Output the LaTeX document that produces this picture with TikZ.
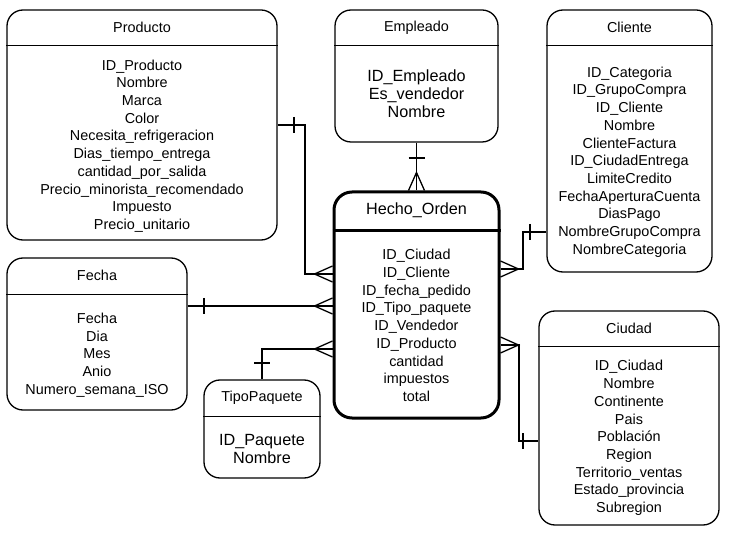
\documentclass[tikz,border=0pt]{standalone}
\usepackage{fontspec}
\setmainfont{Liberation Sans}
\usepackage{tikz}
\tikzset{>=latex}
\tikzset{
    entity/.style={draw, line width=1.3pt, rounded corners=16pt, inner sep=0pt},
    title/.style={font=\fontsize{14.4}{17.7}\selectfont},
    attr/.style={align=center, inner sep=0pt, font=\fontsize{14.4}{17.7}\selectfont},
    bigattr/.style={align=center, inner sep=0pt, font=\fontsize{16.2}{18}\selectfont},
    onebar/.pic={\draw (0,-8) -- (0,8);},
    crowfoot/.pic={\draw (0,-8) -- (-18,0) -- (0,8);}
}

\begin{document}
\begin{tikzpicture}[x=1pt, y=-1pt, line width=1.3pt]
    \useasboundingbox (0,0) rectangle (734,537);
    % tablas
    \node[entity, minimum width=270pt, minimum height=230pt] (producto) at (142,125) {};
    \node[entity, minimum width=163pt, minimum height=132pt] (empleado) at (416.5,76) {};
    \node[entity, minimum width=165pt, minimum height=262pt] (cliente) at (629.5,141) {};
    \node[entity, minimum width=180pt, minimum height=152pt] (fecha) at (97,334) {};
    \node[entity, minimum width=116pt, minimum height=98pt] (tipo) at (262,429) {};
    \node[entity, minimum width=180pt, minimum height=214pt] (ciudad) at (629,418) {};
    \node[entity, line width=3pt, rounded corners=18pt, minimum width=165pt, minimum height=226pt] (hecho) at (416.5,305) {};
    \draw ([yshift=-36pt]producto.north west) -- ([yshift=-36pt]producto.north east);
    \draw ([yshift=-36pt]empleado.north west) -- ([yshift=-36pt]empleado.north east);
    \draw ([yshift=-36pt]cliente.north west) -- ([yshift=-36pt]cliente.north east);
    \draw ([yshift=-37pt]fecha.north west) -- ([yshift=-37pt]fecha.north east);
    \draw ([yshift=-37pt]tipo.north west) -- ([yshift=-37pt]tipo.north east);
    \draw ([yshift=-36pt]ciudad.north west) -- ([yshift=-36pt]ciudad.north east);
    \draw[line width=3pt] ([yshift=-40pt]hecho.north west) -- ([yshift=-40pt]hecho.north east);
    % titulos
    \node[title] (producto-t) at ([yshift=-18pt]producto.north) {Producto};
    \node[title] (empleado-t) at ([yshift=-18pt]empleado.north) {Empleado};
    \node[title] (cliente-t) at ([yshift=-18pt]cliente.north) {Cliente};
    \node[title] (fecha-t) at ([yshift=-18pt]fecha.north) {Fecha};
    \node[title] (tipo-t) at ([yshift=-18pt]tipo.north) {TipoPaquete};
    \node[title] (ciudad-t) at ([yshift=-18pt]ciudad.north) {Ciudad};
    \node[title, font=\fontsize{16.2}{18}\selectfont] (hecho-t) at ([yshift=-20pt]hecho.north) {Hecho\_Orden};
    % atributos
    \node[attr] (producto-a) at (142,146) {ID\_Producto\\Nombre\\Marca\\Color\\Necesita\_refrigeracion\\Dias\_tiempo\_entrega\\cantidad\_por\_salida\\Precio\_minorista\_recomendado\\Impuesto\\Precio\_unitario};
    \node[bigattr] (empleado-a) at (416.5,94) {ID\_Empleado\\Es\_vendedor\\Nombre};
    \node[attr] (cliente-a) at (629.5,162) {ID\_Categoria\\ID\_GrupoCompra\\ID\_Cliente\\Nombre\\ClienteFactura\\ID\_CiudadEntrega\\LimiteCredito\\FechaAperturaCuenta\\DiasPago\\NombreGrupoCompra\\NombreCategoria};
    \node[attr] (fecha-a) at (97,355) {Fecha\\Dia\\Mes\\Anio\\Numero\_semana\_ISO};
    \node[bigattr] (tipo-a) at (262,449) {ID\_Paquete\\Nombre};
    \node[attr] (hecho-a) at (416.5,325.5) {ID\_Ciudad\\ID\_Cliente\\ID\_fecha\_pedido\\ID\_Tipo\_paquete\\ID\_Vendedor\\ID\_Producto\\cantidad\\impuestos\\total};
    \node[attr] (ciudad-a) at (629,438) {ID\_Ciudad\\Nombre\\Continente\\Pais\\Población\\Region\\Territorio\_ventas\\Estado\_provincia\\Subregion};
    % relaciones
    \coordinate (hprod) at (hecho.west |- 0,274);
    \coordinate (hfec) at (hecho.west |- 0,306);
    \coordinate (htip) at (hecho.west |- 0,349);
    \coordinate (hcli) at (hecho.east |- 0,269);
    \coordinate (hciu) at (hecho.east |- 0,345);
    \coordinate (ccli) at (cliente.west |- 0,232);
    \coordinate (cciu) at (ciudad.west |- 0,441);
    \draw (producto.east) -- (305,125) |- (hprod);
    \draw (fecha.east |- hfec) -- (hfec);
    \draw (tipo.north) |- (htip);
    \draw (empleado.south) -- (hecho.north);
    \draw (ccli) -- (523,232) |- (hcli);
    \draw (hciu) -- (519,345) |- (cciu);
    \pic at (294,125) {onebar};
    \pic at (204,306) {onebar};
    \pic[rotate=90] at (262,363) {onebar};
    \pic[rotate=90] at (416.5,158) {onebar};
    \pic at (530,232) {onebar};
    \pic at (523,441) {onebar};
    \pic at (hprod) {crowfoot};
    \pic at (hfec) {crowfoot};
    \pic at (htip) {crowfoot};
    \pic[rotate=180] at (hcli) {crowfoot};
    \pic[rotate=180] at (hciu) {crowfoot};
    \pic[rotate=-90] at (hecho.north) {crowfoot};
\end{tikzpicture}
\end{document}
